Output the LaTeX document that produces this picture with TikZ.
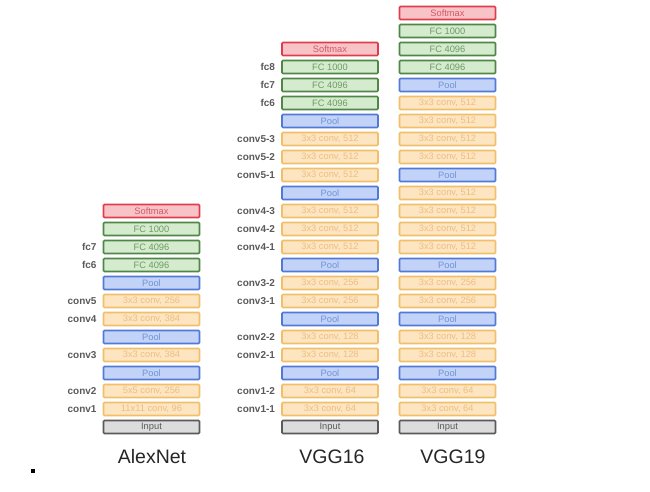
\documentclass[tikz,border=0pt]{standalone}
\usepackage{fontspec}
\setmainfont{Liberation Sans}
\usetikzlibrary{positioning}
\definecolor{sfill}{HTML}{F8C3C7}\definecolor{sdraw}{HTML}{DE3E4C}\definecolor{stext}{HTML}{D45868}
\definecolor{ffill}{HTML}{D4EBCD}\definecolor{fdraw}{HTML}{4F8746}\definecolor{ftext}{HTML}{6E9A66}
\definecolor{pfill}{HTML}{C3D3F7}\definecolor{pdraw}{HTML}{5279D6}\definecolor{ptext}{HTML}{7093D8}
\definecolor{cfill}{HTML}{FDE5C2}\definecolor{cdraw}{HTML}{F1BE6A}\definecolor{ctext}{HTML}{EDBE80}
\definecolor{ifill}{HTML}{DCDCDC}\definecolor{idraw}{HTML}{5A5A5A}\definecolor{itext}{HTML}{5A5A5A}
\definecolor{lblc}{HTML}{5A5A5A}
\newcommand\cnv[1]{3x3 conv, #1}
\begin{document}
\begin{tikzpicture}[x=1pt,y=-1pt,
  layer/.style={rectangle,rounded corners=1pt,line width=1.6pt,minimum width=96pt,minimum height=13pt,inner sep=0pt,font=\fontsize{9.3}{9}\selectfont},
  lsoft/.style={layer,draw=sdraw,fill=sfill,text=stext},
  lfc/.style={layer,draw=fdraw,fill=ffill,text=ftext},
  lpool/.style={layer,draw=pdraw,fill=pfill,text=ptext},
  lconv/.style={layer,draw=cdraw,fill=cfill,text=ctext},
  linput/.style={layer,draw=idraw,fill=ifill,text=itext},
  lbl/.style={text=lblc,font=\fontsize{10}{10}\selectfont\bfseries,inner sep=0pt},
  ttl/.style={text=black!85,font=\fontsize{19.5}{20}\selectfont,inner sep=0pt}]
\useasboundingbox[fill=white] (0,0) rectangle (650,491);
% AlexNet
\foreach \t/\s [count=\i] in {Softmax/lsoft,FC 1000/lfc,FC 4096/lfc,FC 4096/lfc,Pool/lpool,\cnv{256}/lconv,\cnv{384}/lconv,Pool/lpool,\cnv{384}/lconv,Pool/lpool,{5x5 conv{,} 256}/lconv,{11x11 conv{,} 96}/lconv,Input/linput}
  \node[\s] (a\i) at (151.5,{211+18*(\i-1)}) {\t};
\foreach \i/\l in {3/fc7,4/fc6,6/conv5,7/conv4,9/conv3,11/conv2,12/conv1}
  \node[lbl,left=6pt of a\i] (la\i) {\l};
% VGG16
\foreach \t/\s [count=\i] in {Softmax/lsoft,FC 1000/lfc,FC 4096/lfc,FC 4096/lfc,Pool/lpool,\cnv{512}/lconv,\cnv{512}/lconv,\cnv{512}/lconv,Pool/lpool,\cnv{512}/lconv,\cnv{512}/lconv,\cnv{512}/lconv,Pool/lpool,\cnv{256}/lconv,\cnv{256}/lconv,Pool/lpool,\cnv{128}/lconv,\cnv{128}/lconv,Pool/lpool,\cnv{64}/lconv,\cnv{64}/lconv,Input/linput}
  \node[\s] (v\i) at (330,{49+18*(\i-1)}) {\t};
\foreach \i/\l in {2/fc8,3/fc7,4/fc6,6/conv5-3,7/conv5-2,8/conv5-1,10/conv4-3,11/conv4-2,12/conv4-1,14/conv3-2,15/conv3-1,17/conv2-2,18/conv2-1,20/conv1-2,21/conv1-1}
  \node[lbl,left=6pt of v\i] (lv\i) {\l};
% VGG19
\foreach \t/\s [count=\i] in {Softmax/lsoft,FC 1000/lfc,FC 4096/lfc,FC 4096/lfc,Pool/lpool,\cnv{512}/lconv,\cnv{512}/lconv,\cnv{512}/lconv,\cnv{512}/lconv,Pool/lpool,\cnv{512}/lconv,\cnv{512}/lconv,\cnv{512}/lconv,\cnv{512}/lconv,Pool/lpool,\cnv{256}/lconv,\cnv{256}/lconv,Pool/lpool,\cnv{128}/lconv,\cnv{128}/lconv,Pool/lpool,\cnv{64}/lconv,\cnv{64}/lconv,Input/linput}
  \node[\s] (w\i) at (447.5,{13+18*(\i-1)}) {\t};
% titles
\node[ttl] (tA) at (152,457) {AlexNet};
\node[ttl] (tB) at (332,457) {VGG16};
\node[ttl] (tC) at (453,457) {VGG19};
\node[fill=black,minimum size=4.5pt,inner sep=0pt] (dot) at (33,471) {};
\end{tikzpicture}
\end{document}
